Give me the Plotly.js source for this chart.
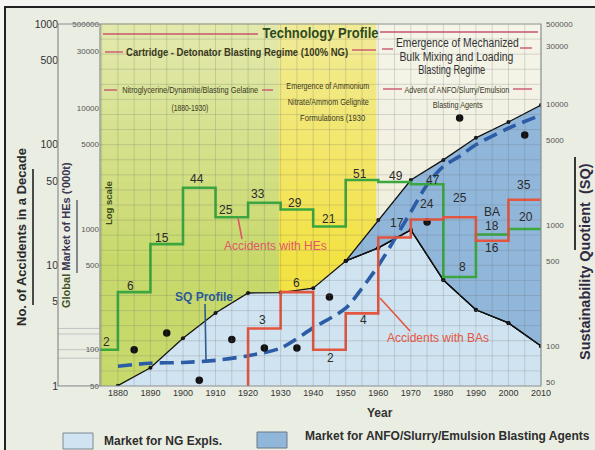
<!DOCTYPE html>
<html><head><meta charset="utf-8">
<script src="https://cdn.plot.ly/plotly-3.0.1.min.js"></script>
<style>html,body{margin:0;padding:0;background:#eaede2;}#chart{width:595px;height:450px;}</style>
</head><body><div id="chart"></div>
<script>
// ---------------- DATA ----------------
const tickYears = [1880,1890,1900,1910,1920,1930,1940,1950,1960,1970,1980,1990,2000,2010];
// Accidents with HEs per decade (decade start)
const heDecades = [1870,1880,1890,1900,1910,1920,1930,1940,1950,1960,1970,1980,1990,2000];
const heAccidents = [2,6,15,44,25,33,29,21,51,49,47,8,18,20];
// Accidents with BAs per decade
const baDecades = [1920,1930,1940,1950,1960,1970,1980,1990,2000];
const baAccidents = [3,6,2,4,17,24,25,16,35];
const seriesEnd = 2010;
// Market for NG explosives (SQ scale)
const marketYears = [1880,1890,1900,1910,1920,1930,1940,1950,1960,1970,1980,1990,2000,2010];
const ngMarket = [47,66,116,187,274,276,300,504,646,910,351,199,155,100];
// Total market incl. ANFO/Slurry/Emulsion blasting agents
const totalYears = [1950,1960,1970,1980,1990,2000,2010];
const totalMarket = [504,1100,2350,3450,5250,7100,9800];
// SQ profile (dashed curve)
const sqYears = [1880,1890,1900,1910,1920,1930,1940,1950,1955,1960,1965,1970,1975,1980,1985,1990,2000,2010];
const sqProfile = [68,72,73,76,83,96,141,205,300,460,760,1280,2150,3050,3700,4600,6300,8100];
// SQ observation points
const sqPointYears = [1885,1895,1905,1915,1925,1935,1945,1975,1985,2005];
const sqPoints = [93,128,52,113,96,96,254,1060,7650,5540];
// Technology eras (background bands)
const eraStart = [1874.5,1929.5,1959.5];
const eraEnd = [1929.5,1959.5,2010];
// Axis tick labels
const accTicks = [1,5,10,50,100,500,1000];
const sqTickVals = [50,100,500,1000,5000,10000,30000,45500];
const sqTickText = ['50','100','500','1000','5000','10000','30000','500000'];
const mkTickVals = [50,100,500,1000,5000,10000,30000,49500];
const mkTickText = ['50','100','500','1000','5000','10000','30000','500000'];

// ---------------- STYLE / GEOMETRY ----------------
const L=58, R=541, T=24, B=386;
const px = x => (x-L)/(R-L);
const py = y => (B-y)/(B-T);
const SANS = 'Liberation Sans, Arial, Helvetica, sans-serif';
const GREEN = '#3aa83e', RED = '#e4563f', NGBLUE = '#d0e3f0', ANFOBLUE = '#90b6da', DASHBLUE = '#2a5ca8';
const eraTop = ['#e3e9ad','#f2eb98','#f4f4e9'];
const eraBottom = ['#c8d96c','#f3e244','#efeedb'];
const heDx = [-2,-4,-5,-2,-6,-6,-2,0,-2,1,6,3,0,1];
const heDy = [8,6,6,9,7,9,7,7,6,6,4,10,9,12];
const baDx = [-2,0,1,1,2,0,0,0,-1];
const baDy = [8,9,-8,-7,15,15,19,-7,15];

// ---------------- TRACES ----------------
const traces = [];
traces.push({x:[marketYears[0], marketYears[marketYears.length-1]], y:[1,1], yaxis:'y', mode:'lines', line:{width:0, color:'rgba(0,0,0,0)'}, hoverinfo:'skip'});
traces.push({x:marketYears, y:ngMarket, yaxis:'y', mode:'lines+markers', fill:'tonexty', fillcolor:NGBLUE,
  line:{color:'#111', width:1.3}, marker:{color:'#111', size:4}});
const i0 = marketYears.indexOf(totalYears[0]);
traces.push({x:marketYears.slice(i0), y:ngMarket.slice(i0), yaxis:'y', mode:'lines+markers', line:{color:'#111', width:1.3}, marker:{color:'#111', size:4}});
traces.push({x:totalYears, y:totalMarket, yaxis:'y', mode:'lines+markers', fill:'tonexty', fillcolor:ANFOBLUE,
  line:{color:'#111', width:1.3}, marker:{color:'#111', size:4}});
traces.push({x:marketYears.slice(i0), y:ngMarket.slice(i0), yaxis:'y', mode:'lines+markers', line:{color:'#111', width:1.3}, marker:{color:'#111', size:4}});
traces.push({x:sqYears, y:sqProfile, yaxis:'y', mode:'lines', line:{color:DASHBLUE, width:3.6, dash:'14px,7px', shape:'spline', smoothing:0.8}});
traces.push({x:sqPointYears, y:sqPoints, yaxis:'y', mode:'markers', marker:{color:'#111', size:7.5}});
traces.push({x:heDecades.concat([seriesEnd]), y:heAccidents.concat([heAccidents[heAccidents.length-1]]), yaxis:'y2',
  mode:'lines', line:{color:GREEN, width:2.6, shape:'hv'}});
traces.push({x:[baDecades[0]].concat(baDecades, [seriesEnd]), y:[accTicks[0]].concat(baAccidents, [baAccidents[baAccidents.length-1]]), yaxis:'y2',
  mode:'lines', line:{color:RED, width:2.6, shape:'hv'}});
traces.push({x:[], y:[], yaxis:'y3', mode:'lines', hoverinfo:'skip'});

// ---------------- SHAPES ----------------
const shapes = [];
function mix(a,b,t){const pa=[1,3,5].map(i=>parseInt(a.substr(i,2),16)), pb=[1,3,5].map(i=>parseInt(b.substr(i,2),16));
  return 'rgb('+pa.map((v,k)=>Math.round(v+(pb[k]-v)*t)).join(',')+')';}
const NB = 30;
for (let e=0;e<eraStart.length;e++){
  for (let i=0;i<NB;i++){
    const t=(i+0.5)/NB; const f=Math.max(0,(t-0.35)/0.65);
    shapes.push({type:'rect', layer:'below', xref:'x', yref:'paper', x0:eraStart[e], x1:eraEnd[e], y0:i/NB, y1:(i+1)/NB+0.002,
      fillcolor:mix(eraBottom[e], eraTop[e], f), line:{width:0}});
  }
}
for (let yr=1875; yr<2010; yr+=5) shapes.push({type:'line', layer:'above', xref:'x', yref:'paper', x0:yr, x1:yr, y0:0, y1:1, line:{color:'rgba(100,100,100,0.22)', width:1}});
const NR = 24;
for (let i=1;i<NR;i++) shapes.push({type:'line', layer:'above', xref:'paper', yref:'paper', x0:px(100), x1:1, y0:i/NR, y1:i/NR, line:{color:'rgba(100,100,100,0.22)', width:1}});
accTicks.forEach(v=>shapes.push({type:'line', layer:'above', xref:'paper', yref:'y2', x0:0, x1:px(100), y0:Math.log10(v), y1:Math.log10(v), line:{color:'rgba(120,120,140,0.35)', width:1}}));
shapes.push({type:'rect', layer:'above', xref:'paper', yref:'paper', x0:0, x1:1, y0:0, y1:1, line:{color:'#8a8d90', width:1.2}});
shapes.push({type:'line', layer:'above', xref:'paper', yref:'paper', x0:px(100), x1:px(100), y0:0, y1:1, line:{color:'#8a8d90', width:1.2}});
shapes.push({type:'rect', layer:'below', xref:'paper', yref:'paper', x0:px(-2), x1:px(600), y0:py(-2), y1:py(7), fillcolor:'#f5f6f1', line:{width:0}});
shapes.push({type:'rect', layer:'below', xref:'paper', yref:'paper', x0:px(-2), x1:px(5), y0:py(-2), y1:py(452), fillcolor:'#f5f6f1', line:{width:0}});
shapes.push({type:'line', layer:'above', xref:'paper', yref:'paper', x0:px(4), x1:px(600), y0:py(7), y1:py(7), line:{color:'#222', width:2}});
shapes.push({type:'line', layer:'above', xref:'paper', yref:'paper', x0:px(5), x1:px(5), y0:py(7), y1:py(452), line:{color:'#222', width:2}});
function seg(x0,y0,x1,y1,color,w){shapes.push({type:'line', layer:'above', xref:'paper', yref:'paper', x0:px(x0), y0:py(y0), x1:px(x1), y1:py(y1), line:{color:color, width:w}});}
const PINK = '#c95570';
seg(103,34,258,34,PINK,1.6); seg(380,32,538,32,PINK,1.6);
seg(105,52,123,52,PINK,1.4); seg(352,50,376,50,PINK,1.4);
seg(104,90,117,90,PINK,1.4); seg(262,90,273,90,PINK,1.4);
seg(382,49,393,49,PINK,1.4); seg(520,48,532,48,PINK,1.4);
seg(383,89,402,89,PINK,1.4); seg(513,89,532,89,PINK,1.4);
seg(205,304,206,361,'#2f5a90',1.6);
seg(238,218,242,239,'#e0566a',1.6);
seg(380,298,410,331,RED,1.6);
seg(33,169,33,305,'#222',1.6);
seg(77,200,77,273,'#6a6e7a',1.6);
seg(575,157,575,250,'#222',1.8);
shapes.push({type:'rect', layer:'above', xref:'paper', yref:'paper', x0:px(63), x1:px(93), y0:py(449), y1:py(433), fillcolor:NGBLUE, line:{color:'#7b8792', width:1}});
shapes.push({type:'rect', layer:'above', xref:'paper', yref:'paper', x0:px(257), x1:px(287), y0:py(448), y1:py(432), fillcolor:ANFOBLUE, line:{color:'#6a7886', width:1}});

// ---------------- ANNOTATIONS ----------------
const anns = [];
const squeeze = {};   // annotation index -> target text width (px)
function txt(text,x,y,size,color,w,extra){
  if (w) squeeze[anns.length] = w;
  anns.push(Object.assign({xref:'paper', yref:'paper', x:px(x), y:py(y), text:text, showarrow:false,
  xanchor:'center', yanchor:'middle', font:{size:size, color:color, family:SANS}}, extra||{}));}
heAccidents.forEach((v,i)=>{
  const a=Math.max(heDecades[i],eraStart[0]), b=(i+1<heDecades.length?heDecades[i+1]:seriesEnd);
  anns.push({xref:'x', yref:'y2', x:(a+b)/2, y:Math.log10(v), text:String(v), showarrow:false, xshift:heDx[i], yshift:heDy[i],
    font:{size:12, color:'#2b2b2b', family:SANS}});
});
baAccidents.forEach((v,i)=>{
  const a=baDecades[i], b=(i+1<baDecades.length?baDecades[i+1]:seriesEnd);
  anns.push({xref:'x', yref:'y2', x:(a+b)/2, y:Math.log10(v), text:String(v), showarrow:false, xshift:baDx[i], yshift:baDy[i],
    font:{size:12, color:'#2b2b2b', family:SANS}});
});
const OLIVE = '#38381e';
txt('BA',492,212,12,'#2b2b2b');
txt('<b>Technology Profile</b>',320,33,14,'#2e4a1e',116);
txt('<b>Cartridge - Detonator Blasting Regime (100% NG)</b>',237,52,10.5,OLIVE,222);
txt('Nitroglycerine/Dynamite/Blasting Gelatine',190,90,8.8,OLIVE,136);
txt('(1880-1930)',190,108,9.5,OLIVE,37);
txt('Emergence of Ammonium',328,86,9.2,OLIVE,83);
txt('Nitrate/Ammom Gelignite',328,102,9.2,OLIVE,81);
txt('Formulations (1930',332,118,9.2,OLIVE,65);
txt('Emergence of Mechanized',457,43,12,'#333',123);
txt('Bulk Mixing and Loading',456,57,12,'#333',114);
txt('Blasting Regime',452,70,12,'#333',67);
txt('Advent of ANFO/Slurry/Emulsion',457,89,9.5,OLIVE,105);
txt('Blasting Agents',458,104,9.5,OLIVE,50);
txt('<b>SQ Profile</b>',204,297,12,'#2b5a9a');
txt('Accidents with HEs',275,246,12,'#e0566a');
txt('Accidents with BAs',438,338,12,RED);
txt('<b>Year</b>',380,413,12,'#333');
txt('<b>Log scale</b>',108,203,9.5,'#3b4a18',0,{textangle:-90});
txt('<b>No. of Accidents in a Decade</b>',21,237,13,'#2a2a2a',0,{textangle:-90});
txt('<b><span style="color:#44521e">Global</span> Market of HEs (\'000t)</b>',66,235,11,'#3a3550',0,{textangle:-90});
txt('<b>Sustainability Quotient  (SQ)</b>',585,262,14.5,'#2e2a40',0,{textangle:-90});
txt('<b>Market for NG Expls.</b>',102,441,12,'#2e2e2e',0,{xanchor:'left'});
txt('<b>Market for ANFO/Slurry/Emulsion Blasting Agents</b>',303,436,12,'#2e2e2e',0,{xanchor:'left'});

// ---------------- LAYOUT ----------------
const layout = {
  width:595, height:450, showlegend:false,
  paper_bgcolor:'#eaede2', plot_bgcolor:'rgba(0,0,0,0)',
  margin:{l:L, r:595-R, t:T, b:450-B, autoexpand:false},
  xaxis:{domain:[px(100),1], range:[1874.5,2010], tickvals:tickYears, ticks:'', showgrid:false, zeroline:false, showline:false,
    tickfont:{size:9, color:'#333', family:SANS}, fixedrange:true},
  yaxis:{type:'log', range:[1.669,4.661], side:'right', anchor:'x', tickvals:sqTickVals, ticktext:sqTickText, ticks:'',
    showgrid:false, zeroline:false, showline:false, ticklabelstandoff:4, tickfont:{size:8, color:'#555', family:SANS}},
  yaxis2:{type:'log', range:[0,3], overlaying:'y', anchor:'free', position:0, side:'left', tickvals:accTicks, ticks:'',
    showgrid:false, zeroline:false, showline:false, tickfont:{size:10.5, color:'#333', family:SANS}},
  yaxis3:{type:'log', range:[1.699,4.699], overlaying:'y', anchor:'x', side:'left', tickvals:mkTickVals, ticktext:mkTickText, ticks:'',
    showgrid:false, zeroline:false, showline:false, tickfont:{size:8, color:'#555', family:SANS}},
  shapes:shapes, annotations:anns
};
Plotly.newPlot('chart', traces, layout, {displayModeBar:false, staticPlot:true}).then(()=>{
  document.querySelectorAll('g.annotation').forEach(g=>{
    const idx = +g.getAttribute('data-index');
    if (squeeze[idx]) {
      const t = g.querySelector('text.annotation-text');
      if (t) { t.setAttribute('textLength', squeeze[idx]); t.setAttribute('lengthAdjust','spacingAndGlyphs'); }
    }
  });
});
</script></body></html>
